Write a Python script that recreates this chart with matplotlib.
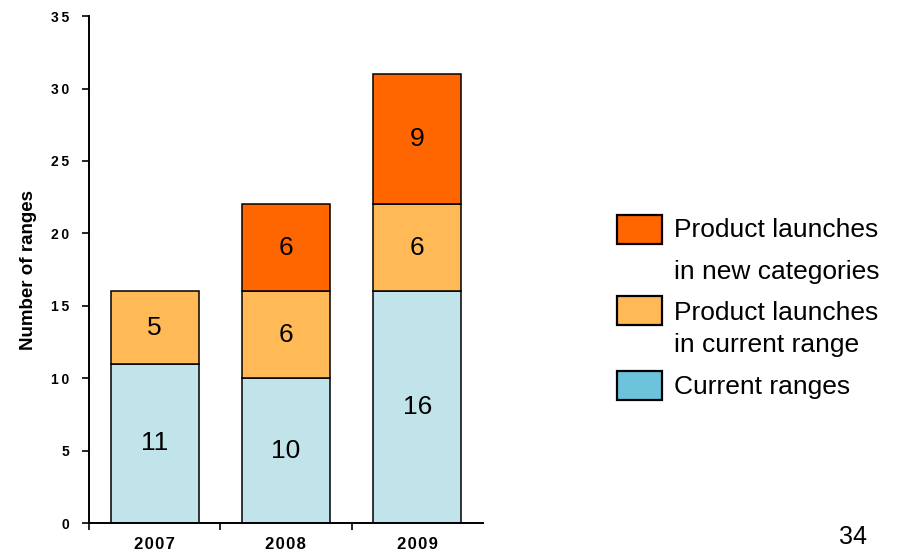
import numpy as np
import matplotlib.pyplot as plt
from matplotlib.patches import Rectangle

plt.rcParams['font.family'] = ['Liberation Sans', 'DejaVu Sans']

# stacked counts per year
years = ['2007', '2008', '2009']
current_ranges = [11, 10, 16]
launches_current = [5, 6, 6]
launches_new = [0, 6, 9]

c_current = '#C1E3EA'
c_current_legend = '#6CC4DC'
c_launch_cur = '#FFB957'
c_launch_new = '#FF6600'

fig = plt.figure(figsize=(8.97, 5.57), dpi=100)
ax = fig.add_axes([0.0992, 0.061, 0.4390, 0.910])

x = np.arange(len(years))
w = 0.67
bottom2 = np.array(current_ranges)
bottom3 = bottom2 + np.array(launches_current)

ax.bar(x, current_ranges, w, color=c_current, edgecolor='black', linewidth=1.1, zorder=2)
ax.bar(x, launches_current, w, bottom=bottom2, color=c_launch_cur, edgecolor='black', linewidth=1.1, zorder=2)
mask = np.array(launches_new) > 0
ax.bar(x[mask], np.array(launches_new)[mask], w, bottom=bottom3[mask], color=c_launch_new,
       edgecolor='black', linewidth=1.1, zorder=2)

# value labels in the middle of each segment
for i in range(len(years)):
    ax.text(x[i], current_ranges[i] / 2, str(current_ranges[i]), ha='center', va='center', fontsize=19)
    ax.text(x[i], bottom2[i] + launches_current[i] / 2, str(launches_current[i]), ha='center', va='center', fontsize=19)
    if launches_new[i] > 0:
        ax.text(x[i], bottom3[i] + launches_new[i] / 2, str(launches_new[i]), ha='center', va='center', fontsize=19)

ax.set_xlim(-0.5, 2.5)
ax.set_ylim(0, 35)
yt = list(range(0, 36, 5))
ax.set_yticks(yt)
ax.set_yticklabels(['\u2009'.join(str(v)) for v in yt], fontsize=10, fontweight='bold')
ax.set_xticks(x)
ax.set_xticklabels(['\u200a'.join(y) for y in years], fontsize=12, fontweight='bold')
ax.tick_params(axis='x', which='major', length=0, pad=10)
ax.set_xticks([-0.5, 0.5, 1.5], minor=True)
ax.tick_params(axis='x', which='minor', length=5, width=1.2, direction='out')
ax.tick_params(axis='y', length=5, width=1.2, direction='out', pad=9)

for s in ['top', 'right']:
    ax.spines[s].set_visible(False)
for s in ['left', 'bottom']:
    ax.spines[s].set_linewidth(1.4)

ax.set_ylabel('Number of ranges', fontsize=13.5, fontweight='bold', labelpad=10)

# legend drawn by hand to keep the uneven line spacing
W, H = 897, 557

def fig_box(x0, y0, x1, y1, color):
    fig.patches.append(Rectangle((x0 / W, 1 - y1 / H), (x1 - x0) / W, (y1 - y0) / H,
                                 facecolor=color, edgecolor='black', linewidth=1.6,
                                 transform=fig.transFigure, figure=fig))

def fig_text(xp, yp, s, **kw):
    fig.text(xp / W, 1 - yp / H, s, va='center', ha='left', fontsize=19, **kw)

fig_box(617, 215, 662, 244, c_launch_new)
fig_box(617, 296, 662, 325, c_launch_cur)
fig_box(617, 371, 662, 400, c_current_legend)
fig_text(674, 230, 'Product launches')
fig_text(674, 272, 'in new categories')
fig_text(674, 313, 'Product launches')
fig_text(674, 345, 'in current range')
fig_text(674, 387, 'Current ranges')

fig.text(853 / W, 1 - 537 / H, '34', ha='center', va='center', fontsize=18)

fig.savefig('out.png', dpi=100)
